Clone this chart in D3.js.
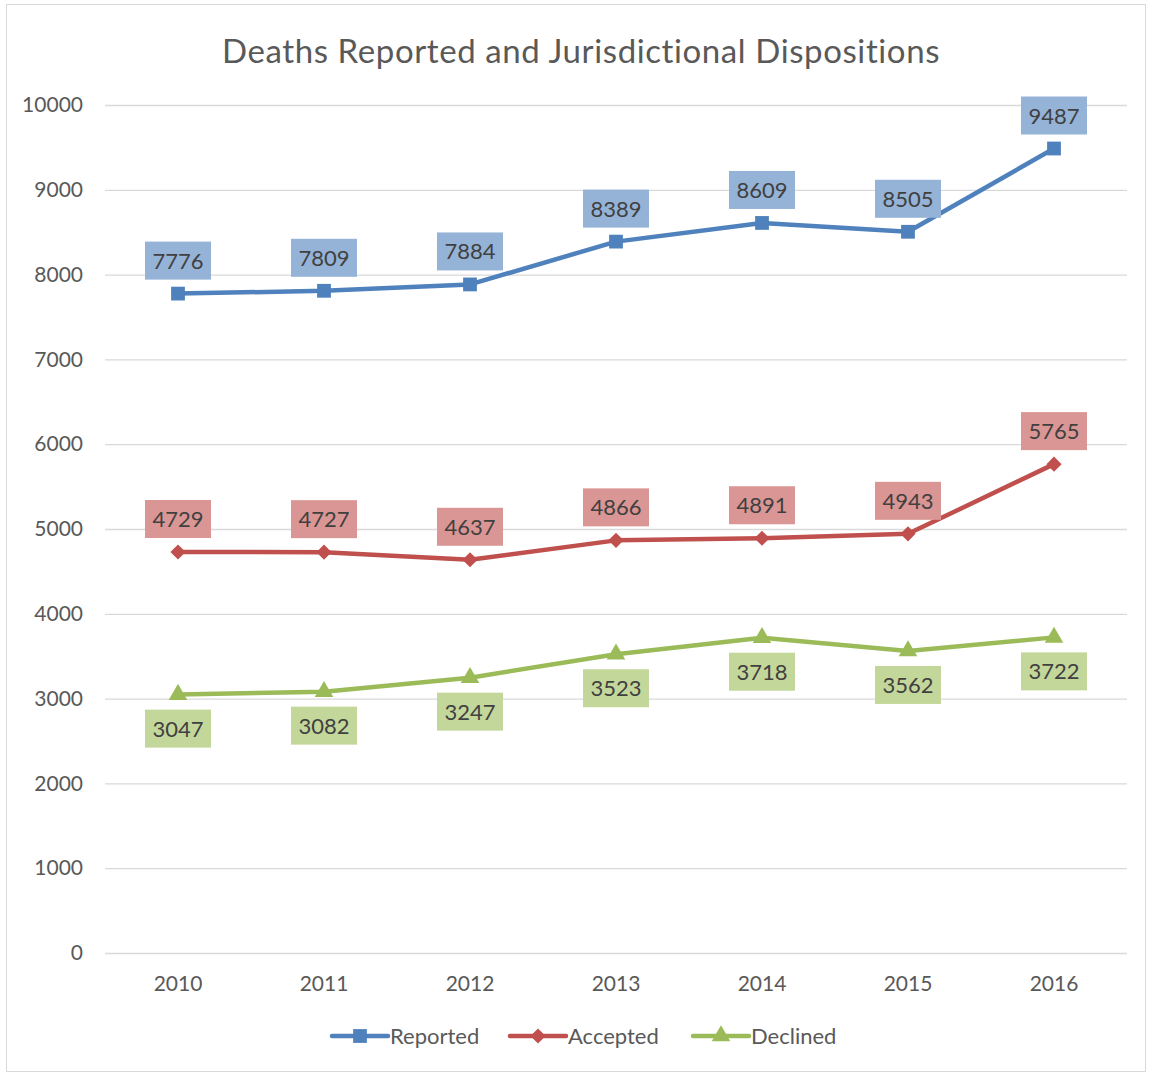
<!DOCTYPE html>
<html><head><meta charset="utf-8">
<script src="https://cdn.jsdelivr.net/npm/d3@7"></script>
<style>body{margin:0;background:#fff}svg{display:block}text{font-family:Lato,"Open Sans",sans-serif}</style>
</head><body>
<script>
const years = ["2010","2011","2012","2013","2014","2015","2016"];
const reported = [7776,7809,7884,8389,8609,8505,9487];
const accepted = [4729,4727,4637,4866,4891,4943,5765];
const declined = [3047,3082,3247,3523,3718,3562,3722];
const yTicks = [0,1000,2000,3000,4000,5000,6000,7000,8000,9000,10000];
const seriesNames = ["Reported","Accepted","Declined"];
const lineColors = ["#4F81BD","#C0504D","#9BBB59"];
const labelFills = ["#95B3D7","#DA9694","#C4D79B"];

const W=1151,H=1076;
const svg=d3.select("body").append("svg").attr("width",W).attr("height",H);
svg.append("rect").attr("x",6.5).attr("y",4.5).attr("width",1139).attr("height",1067).attr("fill","#fff").attr("stroke","#d9d9d9");

const x=d3.scaleBand().domain(years).range([105,1127]);
const y=d3.scaleLinear().domain([0,10000]).range([953,105]);

svg.append("text").attr("x",581).attr("y",63).attr("text-anchor","middle").attr("font-size",33).attr("letter-spacing",0.6).attr("fill","#595959").text("Deaths Reported and Jurisdictional Dispositions");

const gy=svg.append("g").attr("transform","translate(105,0)").call(d3.axisLeft(y).tickValues(yTicks).tickSize(-1022).tickFormat(d3.format("d")).tickPadding(22));
gy.select(".domain").remove();
gy.selectAll(".tick line").attr("stroke","#d9d9d9").attr("stroke-width",1.3);
gy.selectAll(".tick text").attr("font-size",21).attr("fill","#595959");

const gx=svg.append("g").attr("transform","translate(0,953)").call(d3.axisBottom(x).tickSize(0).tickPadding(23));
gx.select(".domain").remove();
gx.selectAll(".tick text").attr("font-size",21).attr("fill","#595959");

const data=[reported,accepted,declined];
const line=d3.line().x((d,i)=>x(years[i])+x.bandwidth()/2).y(d=>y(d));
const sym=[d3.symbolSquare,d3.symbolSquare,d3.symbolTriangle];
const symSize=[190,115,150];
const symRot=[0,45,0];
data.forEach((vals,s)=>{
  svg.append("path").datum(vals).attr("d",line).attr("fill","none").attr("stroke",lineColors[s]).attr("stroke-width",4.5).attr("stroke-linejoin","round").attr("stroke-linecap","round");
  vals.forEach((v,i)=>{
    const cx=x(years[i])+x.bandwidth()/2, cy=y(v);
    svg.append("path").attr("d",d3.symbol().type(sym[s]).size(symSize[s])()).attr("transform",`translate(${cx},${cy}) rotate(${symRot[s]})`).attr("fill",lineColors[s]);
    const ly = s===2 ? cy+34 : cy-33;
    svg.append("rect").attr("x",cx-33).attr("y",ly-19).attr("width",66).attr("height",38).attr("fill",labelFills[s]);
    svg.append("text").attr("x",cx).attr("y",ly+8).attr("text-anchor","middle").attr("font-size",22).attr("fill","#404040").text(v);
  });
});

const legX=[332,510,693];
seriesNames.forEach((n,s)=>{
  const lx=legX[s], ly=1036;
  svg.append("line").attr("x1",lx).attr("x2",lx+56).attr("y1",ly).attr("y2",ly).attr("stroke",lineColors[s]).attr("stroke-width",4.5).attr("stroke-linecap","round");
  svg.append("path").attr("d",d3.symbol().type(sym[s]).size(symSize[s])()).attr("transform",`translate(${lx+28},${ly}) rotate(${symRot[s]})`).attr("fill",lineColors[s]);
  svg.append("text").attr("x",lx+58).attr("y",ly+8).attr("font-size",22).attr("fill","#595959").text(n);
});
</script>
</body></html>
